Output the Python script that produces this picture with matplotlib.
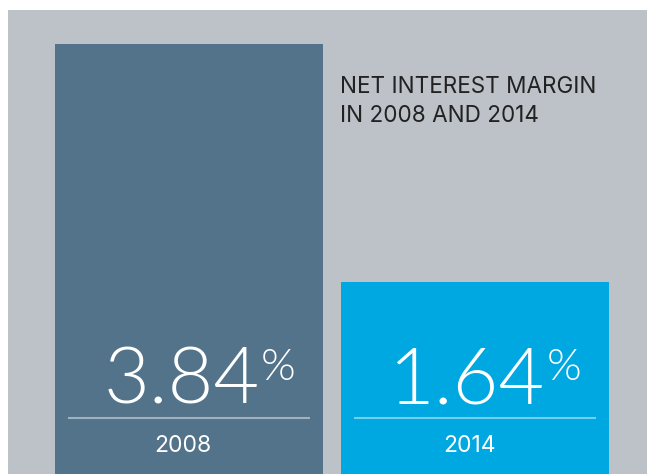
import matplotlib
matplotlib.use("Agg")
import matplotlib.pyplot as plt

# data
years = ["2008", "2014"]
margins = [3.84, 1.64]
bar_colors = ["#52738a", "#00a8e1"]
title = "NET INTEREST MARGIN\nIN 2008 AND 2014"

plt.rcParams['font.family'] = ['Inter', 'DejaVu Sans']

fig = plt.figure(figsize=(6.47, 4.74), dpi=100, facecolor="white")
ax = fig.add_axes([8 / 647, 0, 639 / 647, 464 / 474])
ax.set_facecolor("#bdc2c9")

ymin, ymax = -0.134, 4.154
x = list(range(len(years)))
ax.bar(x, [v - ymin for v in margins], bottom=ymin, width=0.937,
       color=bar_colors, linewidth=0)

for xi, v, yr in zip(x, margins, years):
    num = ax.text(xi - 0.30, 0.522, f"{v:.2f}", color="white", fontsize=57,
                  family=["Lato", "DejaVu Sans"], fontweight=300,
                  ha="left", va="baseline")
    ax.annotate("%", xy=(1, 0.95), xycoords=num, xytext=(1, 0),
                textcoords="offset points", color="white", fontsize=32,
                family=["Lato", "DejaVu Sans"], fontweight=300,
                ha="left", va="top")
    ax.plot([xi - 0.423, xi + 0.423], [0.384, 0.384], color="white",
            alpha=0.45, lw=1.5, solid_capstyle="butt")
    ax.text(xi - 0.02, 0.125, yr, color="white", fontsize=16.5,
            ha="center", va="center")

ax.text(0.528, 3.119, title, color="#222222", fontsize=16.2,
        ha="left", va="baseline", linespacing=1.4)

ax.set_xlim(-0.633, 1.601)
ax.set_ylim(ymin, ymax)
ax.set_xticks([])
ax.set_yticks([])
for s in ax.spines.values():
    s.set_visible(False)

fig.savefig("out.png", dpi=100, facecolor="white")
